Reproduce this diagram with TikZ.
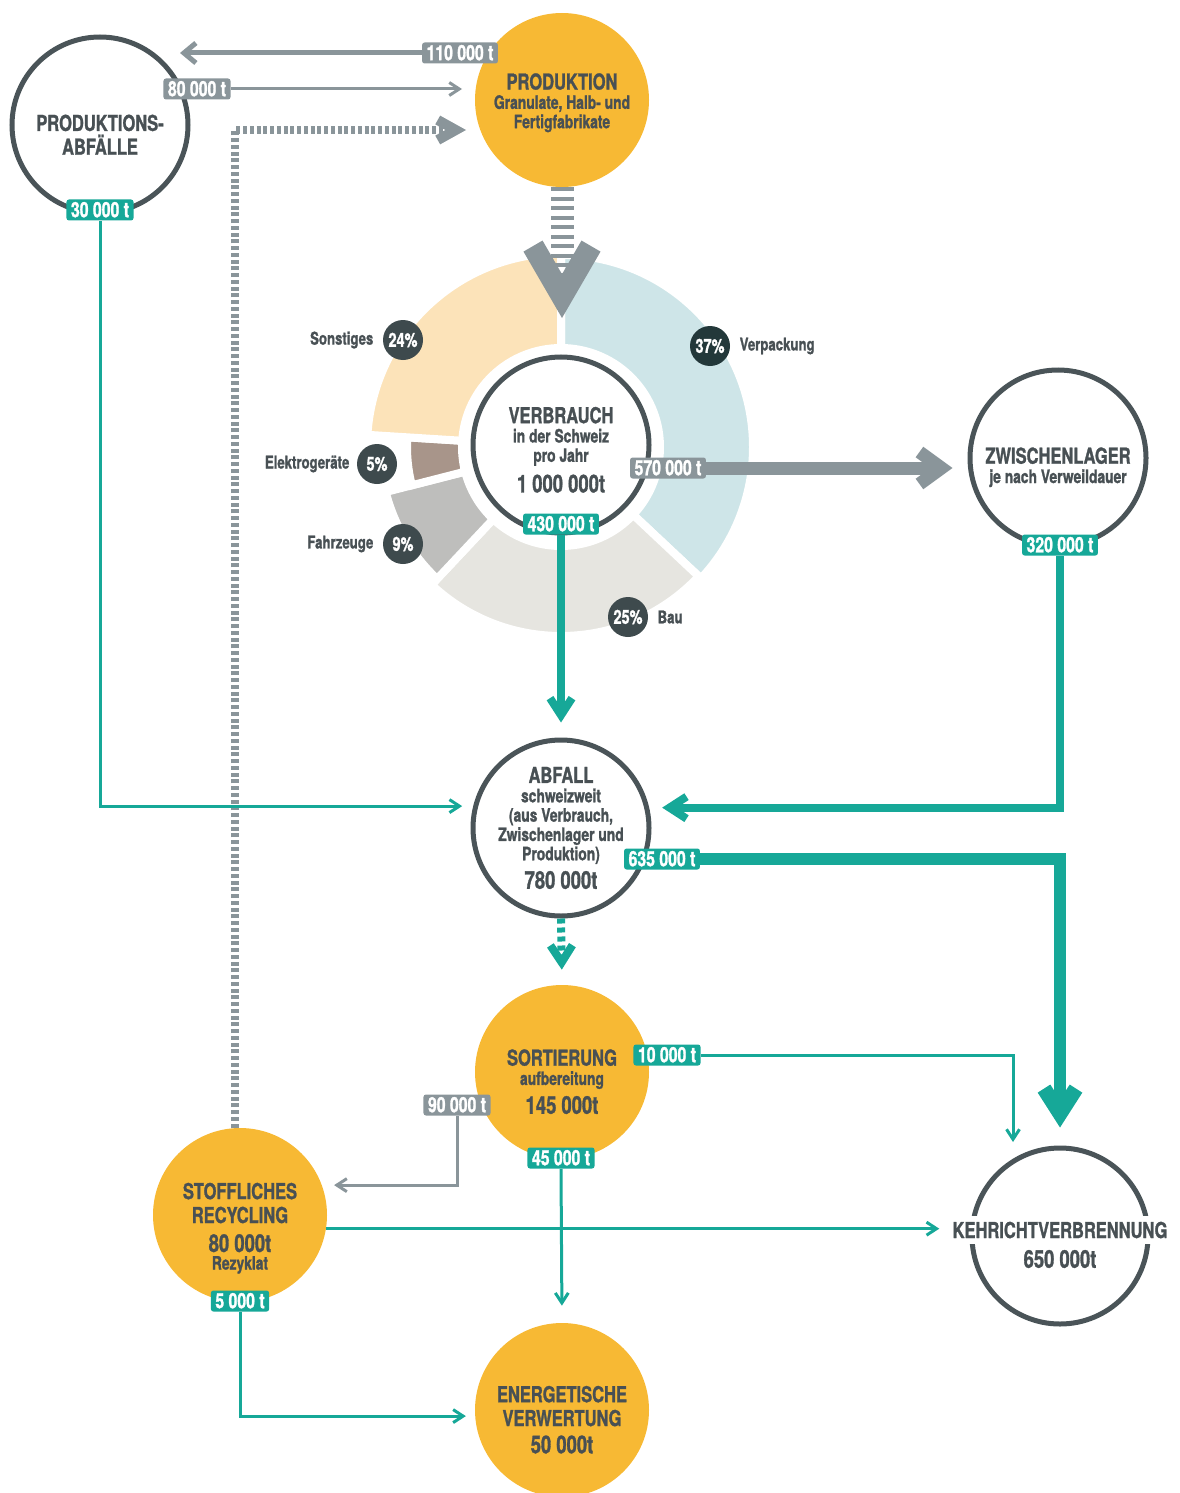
\documentclass[tikz,border=0pt]{standalone}
\usepackage{fontspec}
\setmainfont{TeX Gyre Heros}[FakeStretch=0.75, BoldFeatures={FakeBold=1.2}]
\usetikzlibrary{arrows.meta,positioning}

\definecolor{sunorange}{RGB}{247,185,52}
\definecolor{tealc}{RGB}{22,168,152}
\definecolor{ringgray}{RGB}{74,84,88}
\definecolor{txtgray}{RGB}{72,80,84}
\definecolor{flowgray}{RGB}{138,149,154}
\definecolor{pctgray}{RGB}{62,74,77}
\definecolor{pctdark}{RGB}{35,56,58}
\definecolor{sonstc}{RGB}{252,227,185}
\definecolor{verpc}{RGB}{206,229,232}
\definecolor{bauc}{RGB}{230,229,224}
\definecolor{fahrc}{RGB}{190,190,188}
\definecolor{elekc}{RGB}{168,149,138}

\newcommand\hdf{\fontsize{12.5}{11}\selectfont\bfseries}
\newcommand\sbf{\fontsize{10.5}{11}\selectfont\bfseries}
\newcommand\nmf{\fontsize{14}{12}\selectfont\bfseries}
\newcommand\tgf{\fontsize{12}{12}\selectfont\bfseries}
\newcommand\pcf{\fontsize{11}{11}\selectfont\bfseries}
\newcommand\lbf{\fontsize{10}{10}\selectfont\bfseries}

\begin{document}
\begin{tikzpicture}[x=0.2mm,y=-0.2mm]
            % plastic flows in Switzerland, 1 px = 0.2 mm
            \tikzstyle{ring} = [circle, draw=ringgray, line width=1mm, fill=white, minimum size=35.2mm, inner sep=0, align=center, text=txtgray, font=\sbf];
            \tikzstyle{ball} = [circle, fill=sunorange, minimum size=34.8mm, inner sep=0, align=center, text=txtgray, font=\sbf];
            \tikzstyle{tealtag} = [fill=tealc, text=white, rounded corners=0.5mm, inner xsep=0.9mm, inner ysep=0.65mm, text height=2.9mm, text depth=0pt, font=\tgf];
            \tikzstyle{graytag} = [tealtag, fill=flowgray];
            \tikzstyle{pct} = [circle, fill=pctgray, text=white, minimum size=8mm, inner sep=0, font=\pcf];
            \tikzstyle{partlbl} = [text=txtgray, inner sep=0, font=\lbf];
            \tikzstyle{thinteal} = [draw=tealc, line width=0.6mm, -{Straight Barb[sharp,length=2mm,width=2.6mm]}];
            \tikzstyle{thingray} = [thinteal, draw=flowgray];
            \tikzstyle{midgray} = [draw=flowgray, line width=1mm, -{Straight Barb[sharp,length=2.4mm,width=4mm]}];
            \tikzstyle{fatteal} = [draw=tealc, line width=1.6mm, -{Straight Barb[sharp,length=3.4mm,width=4.4mm]}];
            \tikzstyle{dashteal} = [fatteal, dash pattern=on 1mm off 0.8mm];
            \tikzstyle{hugeteal} = [draw=tealc, line width=2.4mm, -{Straight Barb[sharp,length=5mm,width=6.4mm,line width'=3mm]}];
            \tikzstyle{fatgray} = [draw=flowgray, line width=2.6mm, -{Straight Barb[sharp,length=4.4mm,width=6.4mm]}];
            \tikzstyle{stripegray} = [draw=flowgray, line width=4.6mm, dash pattern=on 0.8mm off 1.1mm, -{Straight Barb[sharp,length=10mm,width=11.6mm,line width'=4.4mm]}];
            \tikzstyle{dotgray} = [draw=flowgray, line width=1.6mm, dash pattern=on 0.8mm off 0.55mm, -{Straight Barb[sharp,length=3.6mm,width=4mm,line width'=2mm]}];

            \useasboundingbox (0,0) rectangle (1179,1493);

            % donut of the consumption shares
            \begin{scope}[shift={(561,447)}, yscale=-1]
                \fill[verpc, draw=white, line width=1.6mm] (90:99) -- (90:192) arc[start angle=90, end angle=-43.2, radius=192] -- (-43.2:99) arc[start angle=-43.2, end angle=90, radius=99] -- cycle;
                \fill[bauc, draw=white, line width=1.6mm] (-43.2:99) -- (-43.2:189) arc[start angle=-43.2, end angle=-133.2, radius=189] -- (-133.2:99) arc[start angle=-133.2, end angle=-43.2, radius=99] -- cycle;
                \fill[fahrc, draw=white, line width=1.6mm] (-133.2:99) -- (-133.2:181) arc[start angle=-133.2, end angle=-165.6, radius=181] -- (-165.6:99) arc[start angle=-165.6, end angle=-133.2, radius=99] -- cycle;
                \fill[elekc, draw=white, line width=1.6mm] (-165.6:99) -- (-165.6:154) arc[start angle=-165.6, end angle=-183.6, radius=154] -- (-183.6:99) arc[start angle=-183.6, end angle=-165.6, radius=99] -- cycle;
                \fill[sonstc, draw=white, line width=1.6mm] (176.4:99) -- (176.4:194) arc[start angle=176.4, end angle=90, radius=194] -- (90:99) arc[start angle=90, end angle=176.4, radius=99] -- cycle;
            \end{scope}

            \node[ring] (pabf) at (100,125) {{\hdf\rule{0pt}{20.3pt}PRODUKTIONS-}\\[1pt]{\hdf ABFÄLLE}};
            \node[ball] (prod) at (562,100) {{\hdf\rule{0pt}{12.4pt}PRODUKTION}\\Granulate, Halb- und\\Fertigfabrikate};
            \node[ring] (verbr) at (561,445) {{\hdf\rule{0pt}{14.7pt}VERBRAUCH}\\in der Schweiz\\pro Jahr\\[4pt]{\nmf 1 000 000t}};
            \node[ring] (zwis) at (1058,458) {{\hdf\rule{0pt}{19.8pt}ZWISCHENLAGER}\\je nach Verweildauer};
            \node[ring] (abfall) at (561,828) {{\hdf ABFALL}\\schweizweit\\(aus Verbrauch,\\Zwischenlager und\\Produktion)\\[3pt]{\nmf 780 000t}};
            \node[ball] (sort) at (562,1072) {{\hdf\rule{0pt}{20.3pt}SORTIERUNG}\\aufbereitung\\[3pt]{\nmf 145 000t}};
            \node[ball] (recyc) at (240,1215) {{\hdf\rule{0pt}{24.3pt}STOFFLICHES}\\[2.6pt]{\hdf RECYCLING}\\[5.5pt]{\nmf 80 000t}\\[-1pt]Rezyklat};
            \node[ball] (energ) at (562,1410) {{\hdf\rule{0pt}{20.3pt}ENERGETISCHE}\\[2.6pt]{\hdf VERWERTUNG}\\[4.5pt]{\nmf 50 000t}};
            \node[ring] (kehr) at (1060,1236) {};
            \node[fill=white, text=txtgray, font=\hdf, inner xsep=1mm] (kehrtxt) at (1060,1230) {KEHRICHTVERBRENNUNG};
            \node[text=txtgray, font=\nmf] (kehrnum) at (1060,1259) {650 000t};

            % shares
            \node[pct] (p24) at (403,340) {24\%};
            \node[pct, fill=pctdark] (p37) at (710,346) {37\%};
            \node[pct] (p5) at (377,464) {5\%};
            \node[pct] (p9) at (403,544) {9\%};
            \node[pct] (p25) at (628,617) {25\%};
            \node[partlbl, left=1.8mm of p24] (lsonst) {Sonstiges};
            \node[partlbl, right=1.8mm of p37] (lverp) {Verpackung};
            \node[partlbl, left=1.4mm of p5] (lelek) {Elektrogeräte};
            \node[partlbl, left=1.8mm of p9] (lfahr) {Fahrzeuge};
            \node[partlbl, right=1.8mm of p25] (lbau) {Bau};

            % flow amounts
            \node[graytag] (t110) at (460,53) {110 000 t};
            \node[graytag] (t80) at (197,89) {80 000 t};
            \node[tealtag] (t30) at (100,210) {30 000 t};
            \node[graytag] (t570) at (668,468) {570 000 t};
            \node[tealtag] (t430) at (561,524) {430 000 t};
            \node[tealtag] (t320) at (1060,545) {320 000 t};
            \node[tealtag] (t635) at (662,859) {635 000 t};
            \node[tealtag] (t10) at (667,1055) {10 000 t};
            \node[graytag] (t90) at (457,1105) {90 000 t};
            \node[tealtag] (t45) at (561,1158) {45 000 t};
            \node[tealtag] (t5) at (240,1301) {5 000 t};

            \coordinate (pabfin) at (180,53);
            \coordinate (prodin) at (462,89);
            \coordinate (prodback) at (466,130);
            \coordinate (verbrtop) at (562,318);
            \coordinate (kehrin) at (1013,1142);

            \draw[midgray] (t110.west) -- (pabfin);
            \draw[thingray] (t80.east) -- (prodin);
            \draw[dotgray] ([xshift=-1mm]recyc.north) |- (prodback);
            \draw[stripegray] (prod.south) -- (verbrtop);
            \draw[fatgray, shorten >=3mm] (t570.east) -- (t570.east -| zwis.west);
            \draw[fatteal, shorten >=3mm] (t430.south) -- (abfall.north);
            \draw[fatteal, shorten >=2.6mm] (t320.south) |- (abfall.13);
            \draw[thinteal, shorten >=2.2mm] (t30.south) |- (abfall.166);
            \draw[hugeteal, shorten >=3.6mm] (t635.east) -| (kehr.north);
            \draw[dashteal, shorten >=3mm] (abfall.south) -- (sort.north);
            \draw[thinteal] (t10.east) -| (kehrin);
            \draw[thingray, shorten >=2.4mm] (t90.south) |- (recyc.20);
            \draw[thinteal, shorten >=3.4mm] (t45.south) -- (energ.north);
            \draw[thinteal, shorten >=1.6mm] (recyc.-9) -- (recyc.-9 -| kehrtxt.west);
            \draw[thinteal, shorten >=1.8mm] (t5.south) |- (energ.184);

        \end{tikzpicture}
\end{document}
